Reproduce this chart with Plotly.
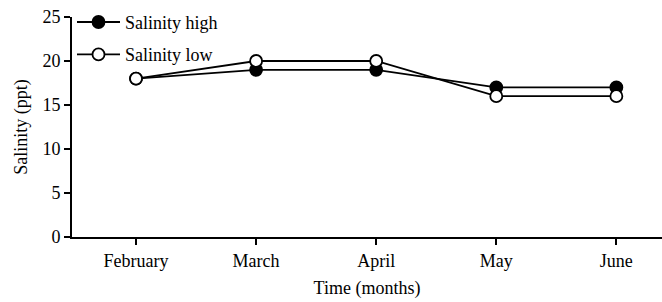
import plotly.graph_objects as go

months = ["February", "March", "April", "May", "June"]
salinity_high = [18, 19, 19, 17, 17]
salinity_low = [18, 20, 20, 16, 16]
y_ticks = [0, 5, 10, 15, 20, 25]

font = dict(family="Liberation Serif, Times New Roman, serif", size=18, color="black")
legend_font = dict(family="Liberation Serif, Times New Roman, serif", size=18, color="black")

fig = go.Figure()
fig.add_trace(go.Scatter(
    x=list(range(len(months))), y=salinity_high, name="Salinity high",
    mode="lines+markers", legendgroup="a",
    line=dict(color="black", width=1.8),
    marker=dict(symbol="circle", size=12, color="black", line=dict(color="black", width=1.8)),
))
fig.add_trace(go.Scatter(
    x=list(range(len(months))), y=salinity_low, name="Salinity low",
    mode="lines+markers", legendgroup="b",
    line=dict(color="black", width=1.8),
    marker=dict(symbol="circle", size=12, color="white", line=dict(color="black", width=1.8)),
))

fig.update_layout(
    width=662, height=302,
    margin=dict(l=72, r=0, t=17, b=65),
    paper_bgcolor="white", plot_bgcolor="white",
    font=font,
    showlegend=True,
    legend=dict(x=0.0, y=1.06, xanchor="left", yanchor="top",
                bgcolor="rgba(0,0,0,0)", font=legend_font,
                traceorder="grouped", tracegroupgap=6,
                itemwidth=43),
    xaxis=dict(
        range=[-0.533, 4.38],
        tickmode="array", tickvals=list(range(len(months))), ticktext=months,
        showline=True, linecolor="black", linewidth=2,
        ticks="outside", ticklen=6, tickwidth=1.5, tickcolor="black",
        showgrid=False, zeroline=False,
        title=dict(text="Time (months)", font=font, standoff=12),
    ),
    yaxis=dict(
        range=[0, 25], tickvals=y_ticks,
        showline=True, linecolor="black", linewidth=2,
        ticks="outside", ticklen=6, tickwidth=1.5, tickcolor="black",
        showgrid=False, zeroline=False,
        title=dict(text="Salinity (ppt)", font=font, standoff=10),
    ),
)

fig.write_html("out.html", config={"displayModeBar": False},
               post_script="document.body.style.margin='0';")
